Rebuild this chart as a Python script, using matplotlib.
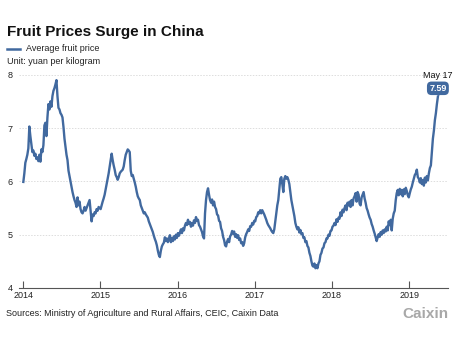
import pandas as pd
import numpy as np
import matplotlib
matplotlib.use("Agg")
import matplotlib.pyplot as plt
import matplotlib.dates as mdates

plt.rcParams['font.family'] = ['Liberation Sans', 'DejaVu Sans']

LINE_COLOR = '#41699f'
START = '2014-01-01'
END = '2019-05-17'

# average fruit price, yuan per kilogram, evenly spaced from START to END
price = [
    5.99, 6.15, 6.35, 6.42, 6.50, 6.62, 7.03, 6.85, 6.70, 6.55, 6.58, 6.48, 6.52, 6.42, 6.45, 6.38,
    6.50, 6.37, 6.60, 6.55, 6.68, 7.05, 7.10, 6.85, 7.20, 7.45, 7.35, 7.50, 7.40, 7.60, 7.70, 7.75,
    7.82, 7.90, 7.60, 7.38, 7.35, 7.28, 7.25, 7.20, 7.02, 6.80, 6.65, 6.50, 6.40, 6.20, 6.10, 6.00,
    5.90, 5.80, 5.72, 5.65, 5.60, 5.52, 5.70, 5.55, 5.62, 5.48, 5.42, 5.40, 5.45, 5.52, 5.45, 5.50,
    5.55, 5.60, 5.65, 5.45, 5.25, 5.38, 5.35, 5.42, 5.40, 5.48, 5.45, 5.52, 5.50, 5.48, 5.55, 5.62,
    5.68, 5.75, 5.85, 5.95, 6.05, 6.15, 6.28, 6.40, 6.52, 6.40, 6.30, 6.22, 6.12, 6.08, 6.03, 6.08,
    6.15, 6.18, 6.20, 6.22, 6.28, 6.40, 6.50, 6.55, 6.60, 6.58, 6.55, 6.20, 6.10, 6.12, 6.05, 5.98,
    5.90, 5.80, 5.72, 5.68, 5.65, 5.55, 5.50, 5.45, 5.40, 5.42, 5.38, 5.35, 5.32, 5.25, 5.20, 5.15,
    5.10, 5.05, 4.98, 4.92, 4.87, 4.80, 4.70, 4.62, 4.58, 4.70, 4.78, 4.82, 4.85, 4.95, 4.88, 4.93,
    4.86, 4.92, 4.99, 4.86, 4.94, 4.88, 4.97, 4.91, 5.00, 4.94, 5.03, 4.98, 5.04, 5.10, 5.03, 5.12,
    5.08, 5.17, 5.22, 5.18, 5.28, 5.20, 5.24, 5.15, 5.22, 5.17, 5.27, 5.22, 5.33, 5.26, 5.28, 5.18,
    5.15, 5.10, 5.05, 4.97, 4.93, 5.40, 5.65, 5.80, 5.87, 5.75, 5.65, 5.60, 5.66, 5.55, 5.62, 5.52,
    5.48, 5.38, 5.36, 5.26, 5.24, 5.12, 5.07, 4.96, 4.90, 4.80, 4.78, 4.87, 4.92, 4.86, 4.97, 5.00,
    5.07, 5.02, 5.06, 4.96, 5.01, 4.94, 4.99, 4.90, 4.93, 4.84, 4.86, 4.79, 4.84, 4.95, 5.01, 5.05,
    5.10, 5.07, 5.16, 5.15, 5.22, 5.19, 5.26, 5.25, 5.33, 5.35, 5.42, 5.40, 5.46, 5.40, 5.46, 5.42,
    5.38, 5.33, 5.28, 5.22, 5.18, 5.15, 5.12, 5.08, 5.05, 5.03, 5.10, 5.25, 5.40, 5.55, 5.65, 5.85,
    6.05, 6.08, 5.95, 5.80, 6.05, 6.10, 6.05, 6.08, 6.03, 5.95, 5.80, 5.65, 5.55, 5.46, 5.35, 5.22,
    5.15, 5.10, 5.14, 5.04, 5.09, 5.01, 5.03, 4.94, 4.95, 4.86, 4.88, 4.79, 4.76, 4.66, 4.60, 4.50,
    4.42, 4.40, 4.46, 4.37, 4.43, 4.37, 4.46, 4.50, 4.62, 4.66, 4.74, 4.76, 4.84, 4.86, 4.93, 4.93,
    5.00, 4.98, 5.07, 5.08, 5.15, 5.17, 5.22, 5.18, 5.29, 5.24, 5.32, 5.30, 5.42, 5.35, 5.47, 5.42,
    5.50, 5.55, 5.46, 5.60, 5.55, 5.62, 5.52, 5.65, 5.55, 5.68, 5.72, 5.78, 5.62, 5.80, 5.75, 5.58,
    5.55, 5.70, 5.75, 5.80, 5.68, 5.60, 5.50, 5.45, 5.38, 5.32, 5.28, 5.20, 5.15, 5.08, 5.02, 4.95,
    4.88, 4.95, 5.01, 4.96, 5.05, 5.00, 5.08, 5.03, 5.10, 5.06, 5.15, 5.08, 5.25, 5.18, 5.28, 5.08,
    5.30, 5.40, 5.45, 5.65, 5.78, 5.84, 5.74, 5.86, 5.76, 5.84, 5.72, 5.85, 5.76, 5.88, 5.82, 5.74,
    5.70, 5.78, 5.85, 5.90, 5.98, 6.05, 6.12, 6.15, 6.22, 6.08, 6.05, 5.98, 6.06, 5.95, 6.02, 5.92,
    6.07, 5.98, 6.10, 6.02, 6.15, 6.25, 6.30, 6.55, 6.80, 6.95, 7.15, 7.28, 7.45, 7.59,
]
dates = pd.date_range(START, END, periods=len(price))

yticks = [4, 5, 6, 7, 8]

fig = plt.figure(figsize=(4.6, 3.4), dpi=100)
ax = fig.add_axes([0.042, 0.153, 0.932, 0.627])

for y in yticks[1:]:
    ax.axhline(y, color='#dddddd', lw=0.7, ls=(0, (1.5, 1.5)), zorder=0)

ax.plot(dates, price, color=LINE_COLOR, lw=1.7, solid_joinstyle='round', zorder=3)

ax.set_ylim(4, 8)
ax.set_xlim(pd.Timestamp('2013-12-13'), pd.Timestamp('2019-07-04'))
ax.set_yticks(yticks)
ax.xaxis.set_major_locator(mdates.YearLocator())
ax.xaxis.set_major_formatter(mdates.DateFormatter('%Y'))

for s in ['top', 'right', 'left']:
    ax.spines[s].set_visible(False)
ax.spines['bottom'].set_color('#555555')
ax.spines['bottom'].set_linewidth(0.8)
ax.tick_params(axis='x', direction='in', length=5, width=0.8, color='#555555',
               labelsize=6.5, pad=2, labelcolor='#222222')
ax.tick_params(axis='y', length=0, labelsize=6.5, pad=5, labelcolor='#222222')

# last value callout
last_x, last_y = dates[-1], price[-1]
ax.annotate(f'{last_y:.2f}', xy=(last_x, last_y), xytext=(0, 6), textcoords='offset points',
            ha='center', va='center', color='white', fontsize=6.5, fontweight='bold',
            bbox=dict(boxstyle='round,pad=0.25,rounding_size=0.5', fc=LINE_COLOR, ec='none'),
            annotation_clip=False, zorder=5)
ax.plot([last_x], [last_y + 0.06], marker='v', ms=3, color=LINE_COLOR, clip_on=False, zorder=4)
ax.annotate('May 17', xy=(last_x, last_y), xytext=(0, 15), textcoords='offset points',
            ha='center', va='center', fontsize=6.5, color='#111111', annotation_clip=False)

fig.text(0.015, 0.905, 'Fruit Prices Surge in China', fontsize=11, fontweight='bold',
         va='center', ha='left', color='#111111')
fig.lines.append(plt.Line2D([0.016, 0.044], [0.856, 0.856], transform=fig.transFigure,
                            color=LINE_COLOR, lw=1.8))
fig.text(0.056, 0.856, 'Average fruit price', fontsize=6.5, va='center', ha='left', color='#222222')
fig.text(0.015, 0.820, 'Unit: yuan per kilogram', fontsize=6.5, va='center', ha='left', color='#222222')
fig.text(0.013, 0.077, 'Sources: Ministry of Agriculture and Rural Affairs, CEIC, Caixin Data',
         fontsize=6.5, va='center', ha='left', color='#222222')
fig.text(0.976, 0.077, 'Caixin', fontsize=11, fontweight='bold', va='center', ha='right',
         color='#a8a8a8')

fig.savefig('out.png', dpi=100, facecolor='white')
